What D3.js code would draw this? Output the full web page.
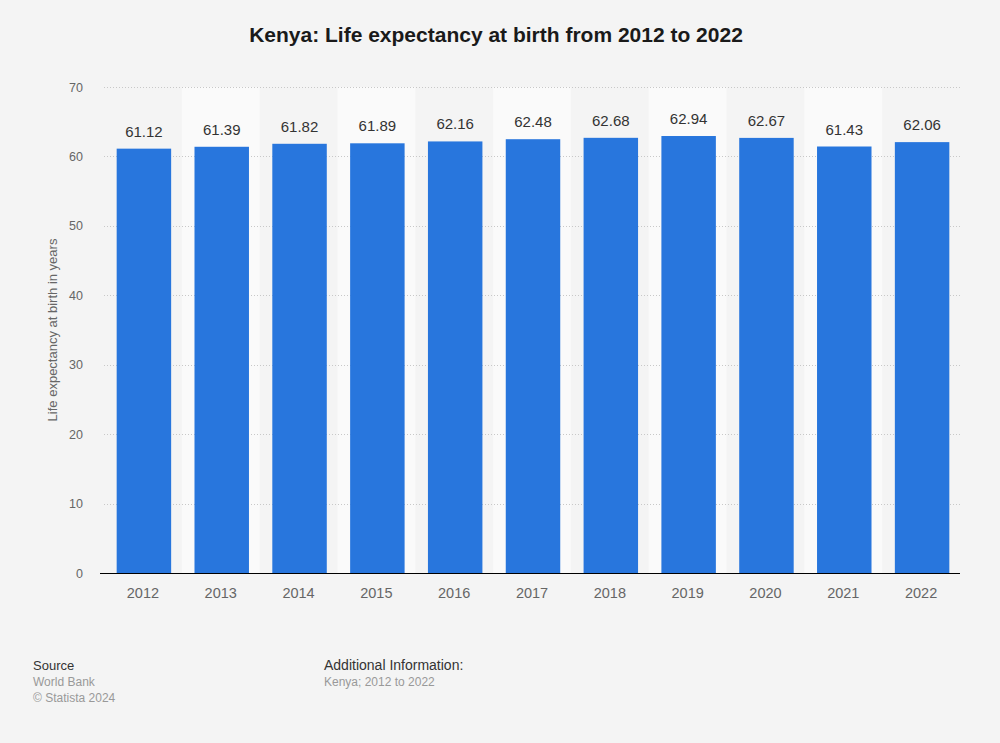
<!DOCTYPE html>
<html>
<head>
<meta charset="utf-8">
<script src="https://cdn.jsdelivr.net/npm/d3@7"></script>
<style>
  html, body { margin: 0; padding: 0; background: #f4f4f4; }
  svg { display: block; font-family: "Liberation Sans", Arial, sans-serif; }
</style>
</head>
<body>
<svg id="chart" width="1000" height="743"></svg>
<script>
const years = ["2012","2013","2014","2015","2016","2017","2018","2019","2020","2021","2022"];
const values = [61.12, 61.39, 61.82, 61.89, 62.16, 62.48, 62.68, 62.94, 62.67, 61.43, 62.06];
const yTicks = [0, 10, 20, 30, 40, 50, 60, 70];

const svg = d3.select("#chart");
const W = 1000, H = 743;
const m = { left: 104, right: 40, top: 87, bottom: 170 };
const x0 = m.left, x1 = W - m.right, y0 = H - m.bottom, y1 = m.top;

svg.append("rect").attr("width", W).attr("height", H).attr("fill", "#f4f4f4");

const x = d3.scaleBand().domain(years).range([x0, x1]).paddingInner(0.3).paddingOuter(0.15);
const xb = d3.scaleBand().domain(years).range([x0, x1]).padding(0);
const y = d3.scaleLinear().domain([0, 70]).range([y0, y1]);

// alternating bands
svg.append("g").selectAll("rect").data(years.filter((d, i) => i % 2 === 1)).join("rect")
  .attr("x", d => xb(d)).attr("width", xb.bandwidth())
  .attr("y", y1).attr("height", y0 - y1)
  .attr("fill", "#fafafa");

// grid
const grid = svg.append("g");
grid.selectAll("line").data(yTicks.filter(t => t > 0)).join("line")
  .attr("x1", x0).attr("x2", x1)
  .attr("y1", d => Math.round(y(d)) + 0.5).attr("y2", d => Math.round(y(d)) + 0.5)
  .attr("stroke", "#c8c8c8").attr("stroke-width", 1).attr("stroke-dasharray", "1,2");

// bars
svg.append("g").selectAll("rect").data(years).join("rect")
  .attr("x", d => x(d) + 1).attr("width", x.bandwidth())
  .attr("y", (d, i) => y(values[i])).attr("height", (d, i) => y0 - y(values[i]))
  .attr("fill", "#2876dd");

// bar labels
svg.append("g").selectAll("text").data(years).join("text")
  .attr("x", d => x(d) + 1 + x.bandwidth() / 2)
  .attr("y", (d, i) => y(values[i]) - 12)
  .attr("text-anchor", "middle")
  .attr("font-size", 15).attr("fill", "#333")
  .text((d, i) => values[i].toFixed(2));

// x axis
const xAxis = svg.append("g").attr("transform", `translate(0,${y0})`)
  .call(d3.axisBottom(xb).tickSize(0).tickPadding(15));
xAxis.select(".domain").attr("stroke", "#000").attr("stroke-width", 1.2)
  .attr("d", `M${x0 - 4},0.5H${x1}`);
xAxis.selectAll("text").attr("font-size", 14.5).attr("fill", "#666")
  .attr("font-family", "Liberation Sans, Arial, sans-serif");

// y axis
const yAxis = svg.append("g").attr("transform", `translate(${x0 - 21},0)`)
  .call(d3.axisLeft(y).tickValues(yTicks).tickSize(0).tickPadding(0));
yAxis.select(".domain").remove();
yAxis.selectAll("text").attr("font-size", 12.5).attr("fill", "#666")
  .attr("font-family", "Liberation Sans, Arial, sans-serif");

// y title
svg.append("text")
  .attr("transform", `translate(57,${(y0 + y1) / 2}) rotate(-90)`)
  .attr("text-anchor", "middle").attr("font-size", 13).attr("fill", "#666")
  .text("Life expectancy at birth in years");

// title
svg.append("text").attr("x", 496).attr("y", 42).attr("text-anchor", "middle")
  .attr("font-size", 21).attr("font-weight", "bold").attr("fill", "#1a1a1a")
  .text("Kenya: Life expectancy at birth from 2012 to 2022");

// footer
const f = svg.append("g").attr("font-size", 12);
f.append("text").attr("x", 33).attr("y", 670).attr("fill", "#333").attr("font-size", 13).text("Source");
f.append("text").attr("x", 33).attr("y", 686).attr("fill", "#999").text("World Bank");
f.append("text").attr("x", 33).attr("y", 702).attr("fill", "#999").text("© Statista 2024");
f.append("text").attr("x", 324).attr("y", 670).attr("fill", "#333").attr("font-size", 14).text("Additional Information:");
f.append("text").attr("x", 324).attr("y", 686).attr("fill", "#999").text("Kenya; 2012 to 2022");
</script>
</body>
</html>
